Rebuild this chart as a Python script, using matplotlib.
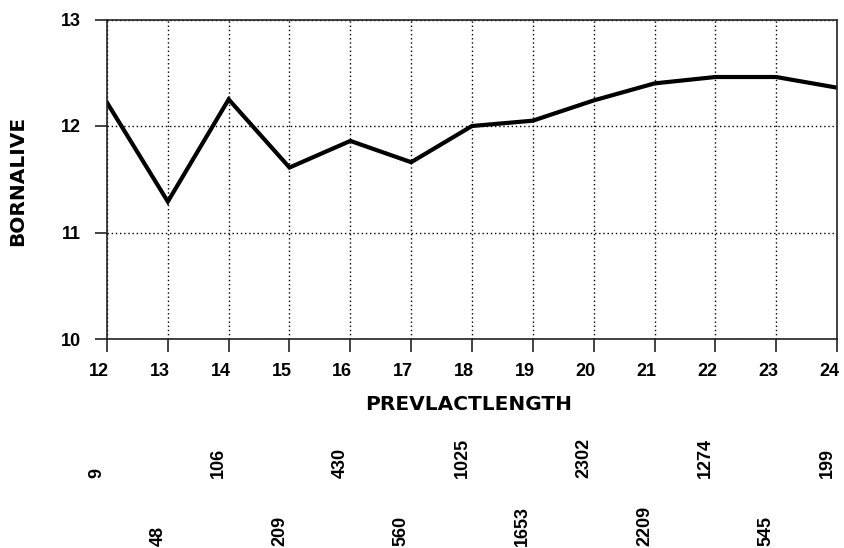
import matplotlib
matplotlib.use("Agg")
import matplotlib.pyplot as plt
from matplotlib import transforms

# data
prev_lact_length = [12, 13, 14, 15, 16, 17, 18, 19, 20, 21, 22, 23, 24]
born_alive = [12.22, 11.29, 12.25, 11.61, 11.86, 11.66, 12.0, 12.05, 12.24, 12.40, 12.46, 12.46, 12.36]
counts = [9, 48, 106, 209, 430, 560, 1025, 1653, 2302, 2209, 1274, 545, 199]
y_ticks = [10, 11, 12, 13]

plt.rcParams['font.family'] = ['Liberation Sans', 'DejaVu Sans']

fig = plt.figure(figsize=(8.44, 5.48), dpi=100)
ax = fig.add_axes([107 / 844, 1 - 339 / 548, 730 / 844, 319.5 / 548])

ax.plot(prev_lact_length, born_alive, color='black', linewidth=3, solid_joinstyle='miter')

ax.set_xlim(12, 24)
ax.set_ylim(10, 13)
ax.set_xticks(prev_lact_length)
ax.set_yticks(y_ticks)
ax.grid(True, color='black', linestyle=(0, (1, 2)), linewidth=1)

for s in ax.spines.values():
    s.set_linewidth(1.2)
    s.set_color('#222222')

ax.tick_params(axis='both', direction='out', length=9, width=1.2, color='#222222',
               labelsize=13, pad=8)
ax.tick_params(axis='y', pad=10)
shift = transforms.ScaledTranslation(-8 / 100, 0, fig.dpi_scale_trans)
for lbl in ax.get_xticklabels():
    lbl.set_fontweight('bold')
    lbl.set_transform(lbl.get_transform() + shift)
for lbl in ax.get_yticklabels():
    lbl.set_fontweight('bold')

label_font = dict(family='DejaVu Sans', fontweight='bold', fontsize=14.5)
fig.text(18 / 844, 1 - 181 / 548, 'BORNALIVE', rotation=90, ha='center', va='center', **label_font)
fig.text(469 / 844, 1 - 405 / 548, 'PREVLACTLENGTH', ha='center', va='center', **label_font)

# counts under the axis, alternating in two rows
trans = transforms.blended_transform_factory(ax.transData, fig.transFigure)
trans = transforms.offset_copy(trans, fig=fig, x=-10, y=0, units='dots')
for i, (x, n) in enumerate(zip(prev_lact_length, counts)):
    ypos = 1 - 478 / 548 if i % 2 == 0 else 1 - 546 / 548
    ax.text(x, ypos, str(n), transform=trans, rotation=90, ha='center', va='bottom',
            fontsize=13, fontweight='bold', clip_on=False)

fig.savefig('out.png', dpi=100)
